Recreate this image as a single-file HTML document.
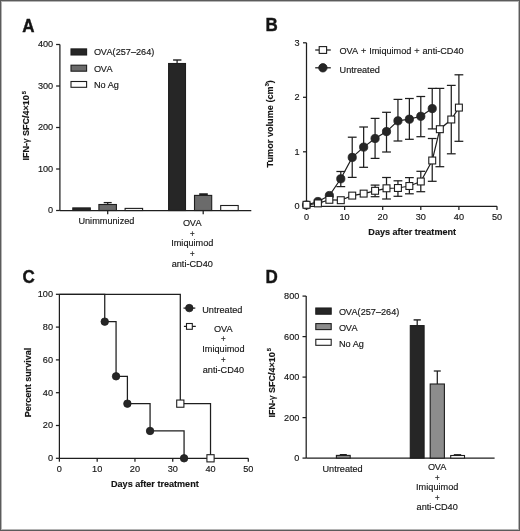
<!DOCTYPE html>
<html><head><meta charset="utf-8"><style>
html,body{margin:0;padding:0;background:#fff;}
svg{display:block;will-change:transform;}
text{font-family:"Liberation Sans",sans-serif;font-kerning:normal;fill:#141414;stroke:#141414;stroke-width:0.15px;}
</style></head><body>
<svg width="520" height="531" viewBox="0 0 520 531">
<rect x="0" y="0" width="520" height="531" fill="#fff"/>
<text transform="translate(22.2,31.5) scale(0.9346,1)" text-anchor="start" font-size="18.19" font-weight="bold" style="stroke-width:0.4px">A</text>
<line x1="59.9" y1="44.5" x2="59.9" y2="210.5" stroke="#1e1e1e" stroke-width="1.25"/>
<line x1="56.1" y1="210.5" x2="59.9" y2="210.5" stroke="#1e1e1e" stroke-width="1.25"/>
<text transform="translate(53.2,213.18) scale(0.9550,1)" text-anchor="end" font-size="9.60" font-weight="normal" >0</text>
<line x1="56.1" y1="169.0" x2="59.9" y2="169.0" stroke="#1e1e1e" stroke-width="1.25"/>
<text transform="translate(53.2,171.68) scale(0.9550,1)" text-anchor="end" font-size="9.60" font-weight="normal" >100</text>
<line x1="56.1" y1="127.5" x2="59.9" y2="127.5" stroke="#1e1e1e" stroke-width="1.25"/>
<text transform="translate(53.2,130.18) scale(0.9550,1)" text-anchor="end" font-size="9.60" font-weight="normal" >200</text>
<line x1="56.1" y1="86.0" x2="59.9" y2="86.0" stroke="#1e1e1e" stroke-width="1.25"/>
<text transform="translate(53.2,88.68) scale(0.9550,1)" text-anchor="end" font-size="9.60" font-weight="normal" >300</text>
<line x1="56.1" y1="44.5" x2="59.9" y2="44.5" stroke="#1e1e1e" stroke-width="1.25"/>
<text transform="translate(53.2,47.18) scale(0.9550,1)" text-anchor="end" font-size="9.60" font-weight="normal" >400</text>
<line x1="59.9" y1="210.5" x2="251.3" y2="210.5" stroke="#1e1e1e" stroke-width="1.25"/>
<line x1="107.7" y1="210.5" x2="107.7" y2="214.3" stroke="#1e1e1e" stroke-width="1.25"/>
<line x1="203.2" y1="210.5" x2="203.2" y2="214.3" stroke="#1e1e1e" stroke-width="1.25"/>
<rect x="72.8" y="207.9" width="17.5" height="2.5999999999999943" fill="#262626" stroke="#1e1e1e" stroke-width="1.1"/>
<rect x="98.9" y="204.5" width="17.5" height="6.0" fill="#6b6b6b" stroke="#1e1e1e" stroke-width="1.1"/>
<line x1="107.7" y1="202.6" x2="107.7" y2="204.5" stroke="#1e1e1e" stroke-width="1.25"/>
<line x1="103.7" y1="202.6" x2="111.7" y2="202.6" stroke="#1e1e1e" stroke-width="1.3"/>
<rect x="125.1" y="208.4" width="17.5" height="2.0999999999999943" fill="#fff" stroke="#1e1e1e" stroke-width="1.1"/>
<rect x="168.6" y="63.5" width="16.900000000000006" height="147.0" fill="#262626" stroke="#1e1e1e" stroke-width="1.1"/>
<line x1="177.1" y1="60.0" x2="177.1" y2="63.5" stroke="#1e1e1e" stroke-width="1.25"/>
<line x1="173.1" y1="60.0" x2="181.4" y2="60.0" stroke="#1e1e1e" stroke-width="1.4"/>
<rect x="194.5" y="195.4" width="17.19999999999999" height="15.099999999999994" fill="#6b6b6b" stroke="#1e1e1e" stroke-width="1.1"/>
<line x1="199.2" y1="194.2" x2="207.8" y2="194.2" stroke="#1e1e1e" stroke-width="1.9"/>
<rect x="220.7" y="205.5" width="17.5" height="5.0" fill="#fff" stroke="#1e1e1e" stroke-width="1.1"/>
<rect x="71.0" y="48.9" width="15.599999999999994" height="6.100000000000001" fill="#262626" stroke="#1e1e1e" stroke-width="1.1"/>
<rect x="71.0" y="65.2" width="15.599999999999994" height="6.0" fill="#6b6b6b" stroke="#1e1e1e" stroke-width="1.1"/>
<rect x="71.0" y="81.5" width="15.599999999999994" height="5.799999999999997" fill="#fff" stroke="#1e1e1e" stroke-width="1.1"/>
<text transform="translate(94.0,55.30) scale(0.9550,1)" text-anchor="start" font-size="9.60" font-weight="normal" >O<tspan dx="-0.3">V</tspan><tspan dx="-0.5">A</tspan>(257&#8211;264)</text>
<text transform="translate(94.0,71.60) scale(0.9550,1)" text-anchor="start" font-size="9.60" font-weight="normal" >O<tspan dx="-0.3">V</tspan><tspan dx="-0.5">A</tspan></text>
<text transform="translate(94.0,87.90) scale(0.9550,1)" text-anchor="start" font-size="9.60" font-weight="normal" >No Ag</text>
<text transform="translate(106.4,223.70) scale(0.9550,1)" text-anchor="middle" font-size="9.60" font-weight="normal" >Unimmunized</text>
<text transform="translate(192.3,225.80) scale(0.9550,1)" text-anchor="middle" font-size="9.60" font-weight="normal" >O<tspan dx="-0.3">V</tspan><tspan dx="-0.5">A</tspan></text>
<text transform="translate(192.3,236.77) scale(0.9550,1)" text-anchor="middle" font-size="8.32" font-weight="normal" >+</text>
<text transform="translate(192.3,246.40) scale(0.9550,1)" text-anchor="middle" font-size="9.60" font-weight="normal" >Imiquimod</text>
<text transform="translate(192.3,257.17) scale(0.9550,1)" text-anchor="middle" font-size="8.32" font-weight="normal" >+</text>
<text transform="translate(192.3,266.80) scale(0.9550,1)" text-anchor="middle" font-size="9.60" font-weight="normal" >anti-CD40</text>
<text transform="translate(29.4,160.4) rotate(-90) scale(0.94,1)" font-size="9.57" font-weight="bold">IFN-<tspan font-weight="normal">&#947;</tspan> SFC/4&#215;10<tspan font-size="6.2" dx="1.1" dy="-3.3">5</tspan></text>
<text transform="translate(265.6,31.2) scale(0.9346,1)" text-anchor="start" font-size="18.19" font-weight="bold" style="stroke-width:0.4px">B</text>
<line x1="306.5" y1="42.80000000000001" x2="306.5" y2="206.3" stroke="#1e1e1e" stroke-width="1.25"/>
<line x1="303.0" y1="206.3" x2="306.5" y2="206.3" stroke="#1e1e1e" stroke-width="1.25"/>
<text transform="translate(299.6,209.39) scale(0.9550,1)" text-anchor="end" font-size="9.60" font-weight="normal" >0</text>
<line x1="303.0" y1="151.8" x2="306.5" y2="151.8" stroke="#1e1e1e" stroke-width="1.25"/>
<text transform="translate(299.6,154.89) scale(0.9550,1)" text-anchor="end" font-size="9.60" font-weight="normal" >1</text>
<line x1="303.0" y1="97.30000000000001" x2="306.5" y2="97.30000000000001" stroke="#1e1e1e" stroke-width="1.25"/>
<text transform="translate(299.6,100.39) scale(0.9550,1)" text-anchor="end" font-size="9.60" font-weight="normal" >2</text>
<line x1="303.0" y1="42.80000000000001" x2="306.5" y2="42.80000000000001" stroke="#1e1e1e" stroke-width="1.25"/>
<text transform="translate(299.6,45.89) scale(0.9550,1)" text-anchor="end" font-size="9.60" font-weight="normal" >3</text>
<line x1="306.5" y1="206.3" x2="497.0" y2="206.3" stroke="#1e1e1e" stroke-width="1.25"/>
<line x1="306.5" y1="206.3" x2="306.5" y2="210.0" stroke="#1e1e1e" stroke-width="1.25"/>
<text transform="translate(306.5,219.90) scale(0.9550,1)" text-anchor="middle" font-size="9.60" font-weight="normal" >0</text>
<line x1="344.6" y1="206.3" x2="344.6" y2="210.0" stroke="#1e1e1e" stroke-width="1.25"/>
<text transform="translate(344.6,219.90) scale(0.9550,1)" text-anchor="middle" font-size="9.60" font-weight="normal" >10</text>
<line x1="382.7" y1="206.3" x2="382.7" y2="210.0" stroke="#1e1e1e" stroke-width="1.25"/>
<text transform="translate(382.7,219.90) scale(0.9550,1)" text-anchor="middle" font-size="9.60" font-weight="normal" >20</text>
<line x1="420.8" y1="206.3" x2="420.8" y2="210.0" stroke="#1e1e1e" stroke-width="1.25"/>
<text transform="translate(420.8,219.90) scale(0.9550,1)" text-anchor="middle" font-size="9.60" font-weight="normal" >30</text>
<line x1="458.9" y1="206.3" x2="458.9" y2="210.0" stroke="#1e1e1e" stroke-width="1.25"/>
<text transform="translate(458.9,219.90) scale(0.9550,1)" text-anchor="middle" font-size="9.60" font-weight="normal" >40</text>
<line x1="497.0" y1="206.3" x2="497.0" y2="210.0" stroke="#1e1e1e" stroke-width="1.25"/>
<text transform="translate(497.0,219.90) scale(0.9550,1)" text-anchor="middle" font-size="9.60" font-weight="normal" >50</text>
<text transform="translate(412.2,235.30) scale(0.9466,1)" text-anchor="middle" font-size="9.60" font-weight="bold" >Days after treatment</text>
<text transform="translate(273.3,167.4) rotate(-90) scale(0.94,1)" font-size="9.73" font-weight="bold">Tumor volume (cm<tspan font-size="6" dy="-4">3</tspan><tspan dy="4">)</tspan></text>
<line x1="340.79" y1="171.5" x2="340.79" y2="186.6" stroke="#1e1e1e" stroke-width="1.25"/>
<line x1="336.39000000000004" y1="171.5" x2="345.19" y2="171.5" stroke="#1e1e1e" stroke-width="1.25"/>
<line x1="336.39000000000004" y1="186.6" x2="345.19" y2="186.6" stroke="#1e1e1e" stroke-width="1.25"/>
<line x1="352.22" y1="137.2" x2="352.22" y2="177.4" stroke="#1e1e1e" stroke-width="1.25"/>
<line x1="347.82000000000005" y1="137.2" x2="356.62" y2="137.2" stroke="#1e1e1e" stroke-width="1.25"/>
<line x1="347.82000000000005" y1="177.4" x2="356.62" y2="177.4" stroke="#1e1e1e" stroke-width="1.25"/>
<line x1="363.65" y1="127.0" x2="363.65" y2="167.3" stroke="#1e1e1e" stroke-width="1.25"/>
<line x1="359.25" y1="127.0" x2="368.04999999999995" y2="127.0" stroke="#1e1e1e" stroke-width="1.25"/>
<line x1="359.25" y1="167.3" x2="368.04999999999995" y2="167.3" stroke="#1e1e1e" stroke-width="1.25"/>
<line x1="375.08" y1="118.4" x2="375.08" y2="158.4" stroke="#1e1e1e" stroke-width="1.25"/>
<line x1="370.68" y1="118.4" x2="379.47999999999996" y2="118.4" stroke="#1e1e1e" stroke-width="1.25"/>
<line x1="370.68" y1="158.4" x2="379.47999999999996" y2="158.4" stroke="#1e1e1e" stroke-width="1.25"/>
<line x1="386.51" y1="112.3" x2="386.51" y2="152.0" stroke="#1e1e1e" stroke-width="1.25"/>
<line x1="382.11" y1="112.3" x2="390.90999999999997" y2="112.3" stroke="#1e1e1e" stroke-width="1.25"/>
<line x1="382.11" y1="152.0" x2="390.90999999999997" y2="152.0" stroke="#1e1e1e" stroke-width="1.25"/>
<line x1="397.94" y1="99.4" x2="397.94" y2="141.0" stroke="#1e1e1e" stroke-width="1.25"/>
<line x1="393.54" y1="99.4" x2="402.34" y2="99.4" stroke="#1e1e1e" stroke-width="1.25"/>
<line x1="393.54" y1="141.0" x2="402.34" y2="141.0" stroke="#1e1e1e" stroke-width="1.25"/>
<line x1="409.37" y1="98.5" x2="409.37" y2="139.3" stroke="#1e1e1e" stroke-width="1.25"/>
<line x1="404.97" y1="98.5" x2="413.77" y2="98.5" stroke="#1e1e1e" stroke-width="1.25"/>
<line x1="404.97" y1="139.3" x2="413.77" y2="139.3" stroke="#1e1e1e" stroke-width="1.25"/>
<line x1="420.8" y1="96.5" x2="420.8" y2="136.7" stroke="#1e1e1e" stroke-width="1.25"/>
<line x1="416.40000000000003" y1="96.5" x2="425.2" y2="96.5" stroke="#1e1e1e" stroke-width="1.25"/>
<line x1="416.40000000000003" y1="136.7" x2="425.2" y2="136.7" stroke="#1e1e1e" stroke-width="1.25"/>
<line x1="432.23" y1="88.4" x2="432.23" y2="128.9" stroke="#1e1e1e" stroke-width="1.25"/>
<line x1="427.83000000000004" y1="88.4" x2="436.63" y2="88.4" stroke="#1e1e1e" stroke-width="1.25"/>
<line x1="427.83000000000004" y1="128.9" x2="436.63" y2="128.9" stroke="#1e1e1e" stroke-width="1.25"/>
<line x1="375.08" y1="185.1" x2="375.08" y2="196.7" stroke="#1e1e1e" stroke-width="1.25"/>
<line x1="370.68" y1="185.1" x2="379.47999999999996" y2="185.1" stroke="#1e1e1e" stroke-width="1.25"/>
<line x1="370.68" y1="196.7" x2="379.47999999999996" y2="196.7" stroke="#1e1e1e" stroke-width="1.25"/>
<line x1="386.51" y1="177.5" x2="386.51" y2="199.0" stroke="#1e1e1e" stroke-width="1.25"/>
<line x1="382.11" y1="177.5" x2="390.90999999999997" y2="177.5" stroke="#1e1e1e" stroke-width="1.25"/>
<line x1="382.11" y1="199.0" x2="390.90999999999997" y2="199.0" stroke="#1e1e1e" stroke-width="1.25"/>
<line x1="397.94" y1="180.8" x2="397.94" y2="196.3" stroke="#1e1e1e" stroke-width="1.25"/>
<line x1="393.54" y1="180.8" x2="402.34" y2="180.8" stroke="#1e1e1e" stroke-width="1.25"/>
<line x1="393.54" y1="196.3" x2="402.34" y2="196.3" stroke="#1e1e1e" stroke-width="1.25"/>
<line x1="409.37" y1="177.6" x2="409.37" y2="193.8" stroke="#1e1e1e" stroke-width="1.25"/>
<line x1="404.97" y1="177.6" x2="413.77" y2="177.6" stroke="#1e1e1e" stroke-width="1.25"/>
<line x1="404.97" y1="193.8" x2="413.77" y2="193.8" stroke="#1e1e1e" stroke-width="1.25"/>
<line x1="420.8" y1="171.3" x2="420.8" y2="191.7" stroke="#1e1e1e" stroke-width="1.25"/>
<line x1="416.40000000000003" y1="171.3" x2="425.2" y2="171.3" stroke="#1e1e1e" stroke-width="1.25"/>
<line x1="416.40000000000003" y1="191.7" x2="425.2" y2="191.7" stroke="#1e1e1e" stroke-width="1.25"/>
<line x1="432.23" y1="138.5" x2="432.23" y2="181.3" stroke="#1e1e1e" stroke-width="1.25"/>
<line x1="427.83000000000004" y1="138.5" x2="436.63" y2="138.5" stroke="#1e1e1e" stroke-width="1.25"/>
<line x1="427.83000000000004" y1="181.3" x2="436.63" y2="181.3" stroke="#1e1e1e" stroke-width="1.25"/>
<line x1="439.85" y1="88.4" x2="439.85" y2="166.7" stroke="#1e1e1e" stroke-width="1.25"/>
<line x1="435.45000000000005" y1="88.4" x2="444.25" y2="88.4" stroke="#1e1e1e" stroke-width="1.25"/>
<line x1="435.45000000000005" y1="166.7" x2="444.25" y2="166.7" stroke="#1e1e1e" stroke-width="1.25"/>
<line x1="451.28" y1="85.4" x2="451.28" y2="153.8" stroke="#1e1e1e" stroke-width="1.25"/>
<line x1="446.88" y1="85.4" x2="455.67999999999995" y2="85.4" stroke="#1e1e1e" stroke-width="1.25"/>
<line x1="446.88" y1="153.8" x2="455.67999999999995" y2="153.8" stroke="#1e1e1e" stroke-width="1.25"/>
<line x1="458.9" y1="74.8" x2="458.9" y2="141.3" stroke="#1e1e1e" stroke-width="1.25"/>
<line x1="454.5" y1="74.8" x2="463.29999999999995" y2="74.8" stroke="#1e1e1e" stroke-width="1.25"/>
<line x1="454.5" y1="141.3" x2="463.29999999999995" y2="141.3" stroke="#1e1e1e" stroke-width="1.25"/>
<polyline points="306.50,205.0 317.93,201.5 329.36,195.5 340.79,178.8 352.22,157.4 363.65,147.1 375.08,138.5 386.51,131.6 397.94,120.8 409.37,119.2 420.80,116.3 432.23,108.6" fill="none" stroke="#1e1e1e" stroke-width="1.2"/>
<polyline points="306.50,204.8 317.93,203.4 329.36,199.8 340.79,200.2 352.22,195.6 363.65,193.6 375.08,190.8 386.51,188.3 397.94,188.0 409.37,186.0 420.80,181.5 432.23,160.5 439.85,129.2 451.28,119.5 458.90,107.6" fill="none" stroke="#1e1e1e" stroke-width="1.2"/>
<circle cx="306.50" cy="205.0" r="4.1" fill="#262626" stroke="#1e1e1e" stroke-width="0.8"/>
<circle cx="317.93" cy="201.5" r="4.1" fill="#262626" stroke="#1e1e1e" stroke-width="0.8"/>
<circle cx="329.36" cy="195.5" r="4.1" fill="#262626" stroke="#1e1e1e" stroke-width="0.8"/>
<circle cx="340.79" cy="178.8" r="4.1" fill="#262626" stroke="#1e1e1e" stroke-width="0.8"/>
<circle cx="352.22" cy="157.4" r="4.1" fill="#262626" stroke="#1e1e1e" stroke-width="0.8"/>
<circle cx="363.65" cy="147.1" r="4.1" fill="#262626" stroke="#1e1e1e" stroke-width="0.8"/>
<circle cx="375.08" cy="138.5" r="4.1" fill="#262626" stroke="#1e1e1e" stroke-width="0.8"/>
<circle cx="386.51" cy="131.6" r="4.1" fill="#262626" stroke="#1e1e1e" stroke-width="0.8"/>
<circle cx="397.94" cy="120.8" r="4.1" fill="#262626" stroke="#1e1e1e" stroke-width="0.8"/>
<circle cx="409.37" cy="119.2" r="4.1" fill="#262626" stroke="#1e1e1e" stroke-width="0.8"/>
<circle cx="420.80" cy="116.3" r="4.1" fill="#262626" stroke="#1e1e1e" stroke-width="0.8"/>
<circle cx="432.23" cy="108.6" r="4.1" fill="#262626" stroke="#1e1e1e" stroke-width="0.8"/>
<rect x="303.05" y="201.35" width="6.9" height="6.9" fill="#fff" stroke="#1e1e1e" stroke-width="1.1"/>
<rect x="314.48" y="199.95" width="6.9" height="6.9" fill="#fff" stroke="#1e1e1e" stroke-width="1.1"/>
<rect x="325.91" y="196.35" width="6.9" height="6.9" fill="#fff" stroke="#1e1e1e" stroke-width="1.1"/>
<rect x="337.34" y="196.75" width="6.9" height="6.9" fill="#fff" stroke="#1e1e1e" stroke-width="1.1"/>
<rect x="348.77" y="192.15" width="6.9" height="6.9" fill="#fff" stroke="#1e1e1e" stroke-width="1.1"/>
<rect x="360.20" y="190.15" width="6.9" height="6.9" fill="#fff" stroke="#1e1e1e" stroke-width="1.1"/>
<rect x="371.63" y="187.35" width="6.9" height="6.9" fill="#fff" stroke="#1e1e1e" stroke-width="1.1"/>
<rect x="383.06" y="184.85" width="6.9" height="6.9" fill="#fff" stroke="#1e1e1e" stroke-width="1.1"/>
<rect x="394.49" y="184.55" width="6.9" height="6.9" fill="#fff" stroke="#1e1e1e" stroke-width="1.1"/>
<rect x="405.92" y="182.55" width="6.9" height="6.9" fill="#fff" stroke="#1e1e1e" stroke-width="1.1"/>
<rect x="417.35" y="178.05" width="6.9" height="6.9" fill="#fff" stroke="#1e1e1e" stroke-width="1.1"/>
<rect x="428.78" y="157.05" width="6.9" height="6.9" fill="#fff" stroke="#1e1e1e" stroke-width="1.1"/>
<rect x="436.40" y="125.75" width="6.9" height="6.9" fill="#fff" stroke="#1e1e1e" stroke-width="1.1"/>
<rect x="447.83" y="116.05" width="6.9" height="6.9" fill="#fff" stroke="#1e1e1e" stroke-width="1.1"/>
<rect x="455.45" y="104.15" width="6.9" height="6.9" fill="#fff" stroke="#1e1e1e" stroke-width="1.1"/>
<line x1="315.2" y1="50.0" x2="330.8" y2="50.0" stroke="#1e1e1e" stroke-width="1.25"/>
<rect x="319.2" y="46.6" width="7.4" height="6.8" fill="#fff" stroke="#1e1e1e" stroke-width="1.1"/>
<line x1="315.2" y1="67.8" x2="330.8" y2="67.8" stroke="#1e1e1e" stroke-width="1.25"/>
<circle cx="322.9" cy="67.8" r="4.2" fill="#262626" stroke="#1e1e1e" stroke-width="0.8"/>
<text transform="translate(339.6,53.90) scale(0.9550,1)" text-anchor="start" font-size="9.60" font-weight="normal" word-spacing="0.3">O<tspan dx="-0.3">V</tspan><tspan dx="-0.5">A</tspan> + Imiquimod + anti-CD40</text>
<text transform="translate(339.6,72.60) scale(0.9550,1)" text-anchor="start" font-size="9.60" font-weight="normal" >Untreated</text>
<text transform="translate(22.4,283.3) scale(0.9346,1)" text-anchor="start" font-size="18.19" font-weight="bold" style="stroke-width:0.4px">C</text>
<line x1="59.4" y1="294.3" x2="59.4" y2="458.3" stroke="#1e1e1e" stroke-width="1.25"/>
<line x1="55.9" y1="458.3" x2="59.4" y2="458.3" stroke="#1e1e1e" stroke-width="1.25"/>
<text transform="translate(53.0,461.23) scale(0.9550,1)" text-anchor="end" font-size="9.60" font-weight="normal" >0</text>
<line x1="55.9" y1="425.5" x2="59.4" y2="425.5" stroke="#1e1e1e" stroke-width="1.25"/>
<text transform="translate(53.0,428.43) scale(0.9550,1)" text-anchor="end" font-size="9.60" font-weight="normal" >20</text>
<line x1="55.9" y1="392.70000000000005" x2="59.4" y2="392.70000000000005" stroke="#1e1e1e" stroke-width="1.25"/>
<text transform="translate(53.0,395.63) scale(0.9550,1)" text-anchor="end" font-size="9.60" font-weight="normal" >40</text>
<line x1="55.9" y1="359.90000000000003" x2="59.4" y2="359.90000000000003" stroke="#1e1e1e" stroke-width="1.25"/>
<text transform="translate(53.0,362.83) scale(0.9550,1)" text-anchor="end" font-size="9.60" font-weight="normal" >60</text>
<line x1="55.9" y1="327.1" x2="59.4" y2="327.1" stroke="#1e1e1e" stroke-width="1.25"/>
<text transform="translate(53.0,330.03) scale(0.9550,1)" text-anchor="end" font-size="9.60" font-weight="normal" >80</text>
<line x1="55.9" y1="294.3" x2="59.4" y2="294.3" stroke="#1e1e1e" stroke-width="1.25"/>
<text transform="translate(53.0,297.23) scale(0.9550,1)" text-anchor="end" font-size="9.60" font-weight="normal" >100</text>
<line x1="59.4" y1="458.3" x2="248.3" y2="458.3" stroke="#1e1e1e" stroke-width="1.25"/>
<line x1="59.4" y1="458.3" x2="59.4" y2="461.7" stroke="#1e1e1e" stroke-width="1.25"/>
<text transform="translate(59.4,471.85) scale(0.9550,1)" text-anchor="middle" font-size="9.60" font-weight="normal" >0</text>
<line x1="97.18" y1="458.3" x2="97.18" y2="461.7" stroke="#1e1e1e" stroke-width="1.25"/>
<text transform="translate(97.18,471.85) scale(0.9550,1)" text-anchor="middle" font-size="9.60" font-weight="normal" >10</text>
<line x1="134.96" y1="458.3" x2="134.96" y2="461.7" stroke="#1e1e1e" stroke-width="1.25"/>
<text transform="translate(134.96,471.85) scale(0.9550,1)" text-anchor="middle" font-size="9.60" font-weight="normal" >20</text>
<line x1="172.74" y1="458.3" x2="172.74" y2="461.7" stroke="#1e1e1e" stroke-width="1.25"/>
<text transform="translate(172.74,471.85) scale(0.9550,1)" text-anchor="middle" font-size="9.60" font-weight="normal" >30</text>
<line x1="210.52" y1="458.3" x2="210.52" y2="461.7" stroke="#1e1e1e" stroke-width="1.25"/>
<text transform="translate(210.52,471.85) scale(0.9550,1)" text-anchor="middle" font-size="9.60" font-weight="normal" >40</text>
<line x1="248.3" y1="458.3" x2="248.3" y2="461.7" stroke="#1e1e1e" stroke-width="1.25"/>
<text transform="translate(248.3,471.85) scale(0.9550,1)" text-anchor="middle" font-size="9.60" font-weight="normal" >50</text>
<text transform="translate(111.0,486.50) scale(0.9466,1)" text-anchor="start" font-size="9.60" font-weight="bold" >Days after treatment</text>
<text transform="translate(30.6,417.2) rotate(-90) scale(0.94,1)" font-size="9.57" font-weight="bold">Percent survival</text>
<polyline points="59.40,294.30 104.74,294.30 104.74,321.64 116.07,321.64 116.07,376.30 127.40,376.30 127.40,403.64 150.07,403.64 150.07,430.96 184.07,430.96 184.07,458.30" fill="none" stroke="#1e1e1e" stroke-width="1.25"/>
<polyline points="59.40,294.30 180.30,294.30 180.30,403.64 210.52,403.64 210.52,458.30" fill="none" stroke="#1e1e1e" stroke-width="1.25"/>
<circle cx="104.74" cy="321.64" r="3.75" fill="#262626" stroke="#1e1e1e" stroke-width="0.8"/>
<circle cx="116.07" cy="376.30" r="3.75" fill="#262626" stroke="#1e1e1e" stroke-width="0.8"/>
<circle cx="127.40" cy="403.64" r="3.75" fill="#262626" stroke="#1e1e1e" stroke-width="0.8"/>
<circle cx="150.07" cy="430.96" r="3.75" fill="#262626" stroke="#1e1e1e" stroke-width="0.8"/>
<circle cx="184.07" cy="458.30" r="3.75" fill="#262626" stroke="#1e1e1e" stroke-width="0.8"/>
<rect x="176.70" y="400.04" width="7.2" height="7.2" fill="#fff" stroke="#1e1e1e" stroke-width="1.1"/>
<rect x="206.92" y="454.70" width="7.2" height="7.2" fill="#fff" stroke="#1e1e1e" stroke-width="1.1"/>
<line x1="183.5" y1="308.1" x2="195.3" y2="308.1" stroke="#1e1e1e" stroke-width="1.25"/>
<circle cx="189.3" cy="308.1" r="3.75" fill="#262626" stroke="#1e1e1e" stroke-width="0.8"/>
<line x1="183.9" y1="326.4" x2="195.8" y2="326.4" stroke="#1e1e1e" stroke-width="1.25"/>
<rect x="186.5" y="323.5" width="5.8" height="5.8" fill="#fff" stroke="#1e1e1e" stroke-width="1.1"/>
<text transform="translate(202.2,312.90) scale(0.9550,1)" text-anchor="start" font-size="9.60" font-weight="normal" >Untreated</text>
<text transform="translate(223.4,331.80) scale(0.9550,1)" text-anchor="middle" font-size="9.60" font-weight="normal" >O<tspan dx="-0.3">V</tspan><tspan dx="-0.5">A</tspan></text>
<text transform="translate(223.4,342.47) scale(0.9550,1)" text-anchor="middle" font-size="8.32" font-weight="normal" >+</text>
<text transform="translate(223.4,351.80) scale(0.9550,1)" text-anchor="middle" font-size="9.60" font-weight="normal" >Imiquimod</text>
<text transform="translate(223.4,362.77) scale(0.9550,1)" text-anchor="middle" font-size="8.32" font-weight="normal" >+</text>
<text transform="translate(223.4,372.60) scale(0.9550,1)" text-anchor="middle" font-size="9.60" font-weight="normal" >anti-CD40</text>
<text transform="translate(265.6,282.5) scale(0.9346,1)" text-anchor="start" font-size="18.19" font-weight="bold" style="stroke-width:0.4px">D</text>
<line x1="306.2" y1="296.1" x2="306.2" y2="458.1" stroke="#1e1e1e" stroke-width="1.25"/>
<line x1="302.5" y1="458.1" x2="306.2" y2="458.1" stroke="#1e1e1e" stroke-width="1.25"/>
<text transform="translate(299.4,461.07) scale(0.9550,1)" text-anchor="end" font-size="9.60" font-weight="normal" >0</text>
<line x1="302.5" y1="417.6" x2="306.2" y2="417.6" stroke="#1e1e1e" stroke-width="1.25"/>
<text transform="translate(299.4,420.57) scale(0.9550,1)" text-anchor="end" font-size="9.60" font-weight="normal" >200</text>
<line x1="302.5" y1="377.1" x2="306.2" y2="377.1" stroke="#1e1e1e" stroke-width="1.25"/>
<text transform="translate(299.4,380.07) scale(0.9550,1)" text-anchor="end" font-size="9.60" font-weight="normal" >400</text>
<line x1="302.5" y1="336.6" x2="306.2" y2="336.6" stroke="#1e1e1e" stroke-width="1.25"/>
<text transform="translate(299.4,339.57) scale(0.9550,1)" text-anchor="end" font-size="9.60" font-weight="normal" >600</text>
<line x1="302.5" y1="296.1" x2="306.2" y2="296.1" stroke="#1e1e1e" stroke-width="1.25"/>
<text transform="translate(299.4,299.07) scale(0.9550,1)" text-anchor="end" font-size="9.60" font-weight="normal" >800</text>
<line x1="306.2" y1="458.1" x2="494.6" y2="458.1" stroke="#1e1e1e" stroke-width="1.25"/>
<rect x="336.4" y="455.4" width="13.800000000000011" height="2.7000000000000455" fill="#8c8c8c" stroke="#1e1e1e" stroke-width="1.1"/>
<line x1="343.3" y1="454.7" x2="343.3" y2="455.4" stroke="#1e1e1e" stroke-width="1.25"/>
<line x1="339.8" y1="454.7" x2="346.8" y2="454.7" stroke="#1e1e1e" stroke-width="1.4"/>
<rect x="410.3" y="325.6" width="13.800000000000011" height="132.5" fill="#262626" stroke="#1e1e1e" stroke-width="1.1"/>
<line x1="417.2" y1="319.9" x2="417.2" y2="325.6" stroke="#1e1e1e" stroke-width="1.25"/>
<line x1="413.6" y1="319.9" x2="420.8" y2="319.9" stroke="#1e1e1e" stroke-width="1.4"/>
<rect x="430.2" y="384.0" width="14.199999999999989" height="74.10000000000002" fill="#8c8c8c" stroke="#1e1e1e" stroke-width="1.1"/>
<line x1="437.3" y1="371.0" x2="437.3" y2="384.0" stroke="#1e1e1e" stroke-width="1.25"/>
<line x1="433.8" y1="371.0" x2="440.8" y2="371.0" stroke="#1e1e1e" stroke-width="1.25"/>
<rect x="450.7" y="455.5" width="13.800000000000011" height="2.6000000000000227" fill="#fff" stroke="#1e1e1e" stroke-width="1.1"/>
<line x1="457.5" y1="454.8" x2="457.5" y2="455.5" stroke="#1e1e1e" stroke-width="1.25"/>
<line x1="453.8" y1="454.8" x2="461.2" y2="454.8" stroke="#1e1e1e" stroke-width="1.4"/>
<rect x="315.8" y="308.0" width="15.399999999999977" height="6.199999999999989" fill="#262626" stroke="#1e1e1e" stroke-width="1.1"/>
<rect x="315.8" y="323.6" width="15.399999999999977" height="6.0" fill="#8c8c8c" stroke="#1e1e1e" stroke-width="1.1"/>
<rect x="315.8" y="339.3" width="15.399999999999977" height="6.0" fill="#fff" stroke="#1e1e1e" stroke-width="1.1"/>
<text transform="translate(339.0,314.90) scale(0.9550,1)" text-anchor="start" font-size="9.60" font-weight="normal" >O<tspan dx="-0.3">V</tspan><tspan dx="-0.5">A</tspan>(257&#8211;264)</text>
<text transform="translate(339.0,330.80) scale(0.9550,1)" text-anchor="start" font-size="9.60" font-weight="normal" >O<tspan dx="-0.3">V</tspan><tspan dx="-0.5">A</tspan></text>
<text transform="translate(339.0,346.50) scale(0.9550,1)" text-anchor="start" font-size="9.60" font-weight="normal" >No Ag</text>
<text transform="translate(342.6,471.60) scale(0.9550,1)" text-anchor="middle" font-size="9.60" font-weight="normal" >Untreated</text>
<text transform="translate(437.2,469.70) scale(0.9550,1)" text-anchor="middle" font-size="9.60" font-weight="normal" >O<tspan dx="-0.3">V</tspan><tspan dx="-0.5">A</tspan></text>
<text transform="translate(437.2,480.57) scale(0.9550,1)" text-anchor="middle" font-size="8.32" font-weight="normal" >+</text>
<text transform="translate(437.2,489.90) scale(0.9550,1)" text-anchor="middle" font-size="9.60" font-weight="normal" >Imiquimod</text>
<text transform="translate(437.2,500.77) scale(0.9550,1)" text-anchor="middle" font-size="8.32" font-weight="normal" >+</text>
<text transform="translate(437.2,510.40) scale(0.9550,1)" text-anchor="middle" font-size="9.60" font-weight="normal" >anti-CD40</text>
<text transform="translate(274.7,417.4) rotate(-90) scale(0.94,1)" font-size="9.57" font-weight="bold">IFN-<tspan font-weight="normal">&#947;</tspan> SFC/4&#215;10<tspan font-size="6.2" dx="1.1" dy="-3.3">5</tspan></text>
<rect x="1.5" y="1.5" width="517" height="528" fill="none" stroke="#b4b4b4" stroke-width="1"/>
<rect x="0.5" y="0.5" width="519" height="530" fill="none" stroke="#5b5b5b" stroke-width="1"/>
</svg>
</body></html>
